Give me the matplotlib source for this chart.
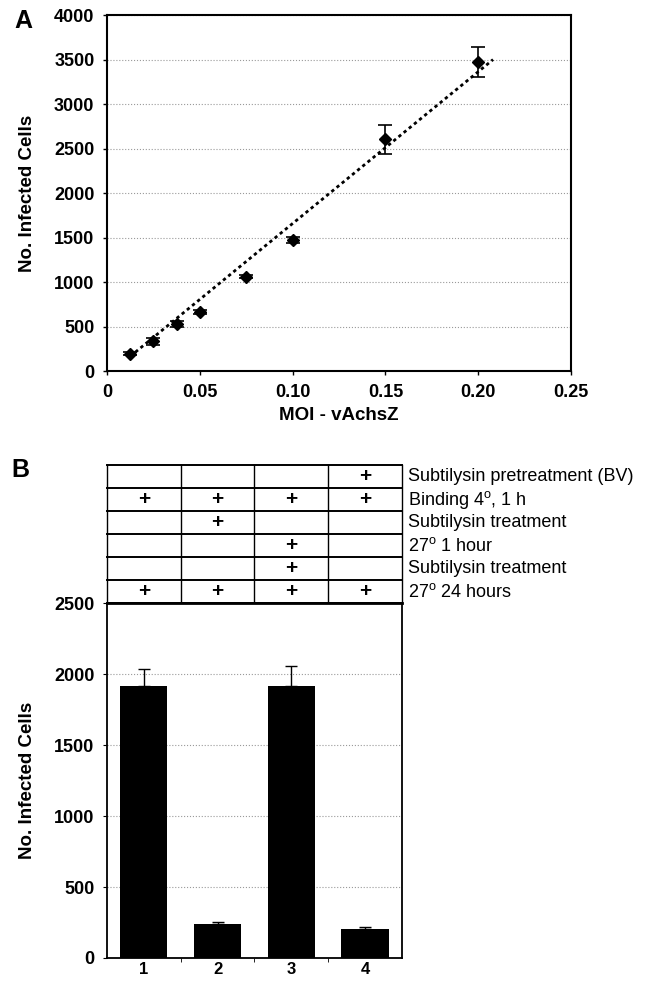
import numpy as np
import matplotlib
matplotlib.use("Agg")
import matplotlib.pyplot as plt

plt.rcParams["font.family"] = ["Liberation Sans", "DejaVu Sans"]
plt.rcParams["mathtext.fontset"] = "custom"
plt.rcParams["mathtext.rm"] = "Liberation Sans"

# Panel A data
moi = [0.0125, 0.025, 0.0375, 0.05, 0.075, 0.10, 0.15, 0.20]
cells = [195, 335, 530, 665, 1060, 1470, 2605, 3475]
cells_err = [20, 40, 35, 20, 20, 35, 165, 170]
trend_x = [0.0125, 0.208]
trend_y = [165, 3500]

# Panel B data
conditions = ["1", "2", "3", "4"]
bar_vals = [1915, 238, 1918, 205]
bar_err = [117, 14, 136, 12]
row_labels = ["Subtilysin pretreatment (BV)", "Binding 4$^{\\mathrm{o}}$, 1 h",
              "Subtilysin treatment", "27$^{\\mathrm{o}}$ 1 hour",
              "Subtilysin treatment", "27$^{\\mathrm{o}}$ 24 hours"]
marks = [[0, 0, 0, 1],
         [1, 1, 1, 1],
         [0, 1, 0, 0],
         [0, 0, 1, 0],
         [0, 0, 1, 0],
         [1, 1, 1, 1]]

grid_kw = dict(color="#9a9a9a", linestyle=":", linewidth=0.8)
tick_font = dict(fontsize=13, fontweight="bold")
label_font = dict(fontsize=13.5, fontweight="bold")

fig = plt.figure(figsize=(6.54, 9.86), dpi=100)

# ---- Panel A ----
axA = fig.add_axes([0.1636, 0.6237, 0.7095, 0.361])
axA.errorbar(moi, cells, yerr=cells_err, fmt="D", color="black", ms=6,
             capsize=5, elinewidth=1.2, capthick=1.2, zorder=3)
axA.plot(trend_x, trend_y, color="black", linestyle=(0, (1.2, 1.2)), linewidth=2, zorder=2)
axA.set_xlim(0, 0.25)
axA.set_ylim(0, 4000)
axA.set_xticks(np.arange(0, 0.26, 0.05))
axA.set_xticklabels(["0", "0.05", "0.10", "0.15", "0.20", "0.25"], **tick_font)
axA.set_yticks(np.arange(0, 4001, 500))
axA.set_yticklabels([str(v) for v in range(0, 4001, 500)], **tick_font)
axA.yaxis.grid(True, **grid_kw)
axA.set_axisbelow(True)
axA.tick_params(length=3, width=1, pad=6)
for s in axA.spines.values():
    s.set_linewidth(1.5)
axA.set_xlabel("MOI - vAchsZ", labelpad=5, **label_font)
axA.set_ylabel("No. Infected Cells", labelpad=13, **label_font)
fig.text(0.036, 0.991, "A", fontsize=18, fontweight="bold", va="top", ha="center")

# ---- Panel B table ----
axT = fig.add_axes([0.1636, 0.3884, 0.451, 0.14])
nrows = len(row_labels)
ncols = len(conditions)
axT.set_xlim(0.5, ncols + 0.5)
axT.set_ylim(nrows, 0)
axT.axis("off")
for r in range(nrows + 1):
    axT.plot([0.5, ncols + 0.5], [r, r], color="black", linewidth=1.4, clip_on=False)
for c in range(ncols + 1):
    axT.plot([c + 0.5, c + 0.5], [0, nrows], color="black", linewidth=1.0, clip_on=False)
for r in range(nrows):
    for c in range(ncols):
        if marks[r][c]:
            axT.text(c + 1, r + 0.5, "+", ha="center", va="center",
                     fontsize=15, fontweight="bold")
    axT.text(ncols + 0.58, r + 0.5, row_labels[r], ha="left", va="center", fontsize=13)
fig.text(0.031, 0.523, "B", fontsize=18, fontweight="bold", va="center", ha="center")

# ---- Panel B bars ----
axB = fig.add_axes([0.1636, 0.0284, 0.451, 0.36])
x = np.arange(1, ncols + 1)
axB.bar(x, bar_vals, width=0.64, color="black", zorder=3)
axB.errorbar(x, bar_vals, yerr=[np.zeros(ncols), bar_err], fmt="none", ecolor="black",
             capsize=4, elinewidth=1, capthick=1, zorder=4)
axB.set_xlim(0.5, ncols + 0.5)
axB.set_ylim(0, 2500)
axB.set_xticks(x)
axB.set_xticklabels(conditions, fontsize=12, fontweight="bold")
axB.set_xticks([1.5, 2.5, 3.5], minor=True)
axB.tick_params(axis="x", which="major", length=0, pad=3)
axB.tick_params(axis="x", which="minor", length=3)
axB.set_yticks(np.arange(0, 2501, 500))
axB.set_yticklabels([str(v) for v in range(0, 2501, 500)], **tick_font)
axB.tick_params(axis="y", length=3, pad=6)
axB.yaxis.grid(True, **grid_kw)
axB.set_axisbelow(True)
for s in axB.spines.values():
    s.set_linewidth(1.3)
axB.spines["top"].set_linewidth(2)
axB.set_ylabel("No. Infected Cells", labelpad=13, **label_font)

plt.savefig("out.png", dpi=100)
